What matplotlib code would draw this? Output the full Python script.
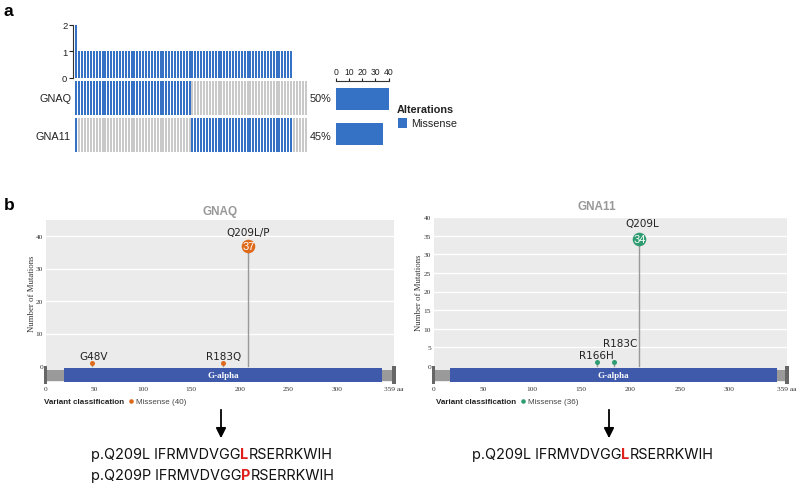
import matplotlib
matplotlib.use("Agg")
import matplotlib.pyplot as plt
import numpy as np
from matplotlib.patches import Rectangle, FancyArrowPatch

# ---------------- data ----------------
n_samples = 80
genes = ["GNAQ", "GNA11"]
gnaq_altered = [0] + list(range(1, 40))          # sample indices with GNAQ missense
gna11_altered = [0] + list(range(40, 75))        # sample indices with GNA11 missense
gene_pct = ["50%", "45%"]
gene_counts = [40, 36]
side_ticks = [0, 10, 20, 30, 40]
top_ticks = [0, 1, 2]

protein_len = 359
domain_name = "G-alpha"
gnaq_domain = (19, 347)
gna11_domain = (17, 349)

gnaq_pos = [48, 183, 209]
gnaq_cnt = [1, 1, 37]
gnaq_lab = ["G48V", "R183Q", "Q209L/P"]
gna11_pos = [166, 183, 209]
gna11_cnt = [1, 1, 34]
gna11_lab = ["R166H", "R183C", "Q209L"]
xticks_aa = [0, 50, 100, 150, 200, 250, 300, 359]
gnaq_yticks = [0, 10, 20, 30, 40]
gna11_yticks = [0, 5, 10, 15, 20, 25, 30, 35, 40]
gnaq_legend = "Missense (40)"
gna11_legend = "Missense (36)"

seq_left = [("p.Q209L IFRMVDVGG", "L", "RSERRKWIH"),
            ("p.Q209P IFRMVDVGG", "P", "RSERRKWIH")]
seq_right = [("p.Q209L IFRMVDVGG", "L", "RSERRKWIH")]

# ---------------- style ----------------
BLUE = "#3572c6"
GREY_CELL = "#c9c9c9"
ORANGE = "#de6a1c"
TEAL = "#2f9c72"
DOMAIN = "#3f5aab"
W, H = 800, 485

fig = plt.figure(figsize=(8, 4.85), dpi=100)
fig.patch.set_facecolor("white")
renderer = fig.canvas.get_renderer()

def ax_px(x0, y0, x1, y1):
    return fig.add_axes([x0 / W, 1 - y1 / H, (x1 - x0) / W, (y1 - y0) / H])

def ftext(x, y, s, **kw):
    return fig.text(x / W, 1 - y / H, s, **kw)

SANS = ["Liberation Sans", "DejaVu Sans"]
SERIF = ["Liberation Serif", "DejaVu Serif"]

# ---------------- panel a ----------------
ftext(4, 16, "a", fontsize=12.5, fontweight="bold", family=SANS)

idx = np.arange(n_samples)
gq = np.zeros(n_samples); gq[gnaq_altered] = 1
g11 = np.zeros(n_samples); g11[gna11_altered] = 1
tot = gq + g11

ax_top = ax_px(75, 25.7, 307, 79)
ax_top.bar(idx[tot > 0] + 0.5, tot[tot > 0], width=0.72, color=BLUE, linewidth=0)
ax_top.set_xlim(0, n_samples)
ax_top.set_ylim(0, 2)
for s in ["top", "right", "bottom"]:
    ax_top.spines[s].set_visible(False)
ax_top.spines["left"].set_position(("outward", 1.5))
ax_top.spines["left"].set_color("#333333")
ax_top.set_xticks([])
ax_top.set_yticks(top_ticks)
ax_top.tick_params(axis="y", labelsize=6.8, length=3, pad=1, colors="#222222")
for t in ax_top.get_yticklabels():
    t.set_family(SANS)

ax_on = ax_px(75, 82, 307, 153)
ax_on.set_xlim(0, n_samples)
ax_on.set_ylim(0, 2)
ax_on.axis("off")
ax_on.bar(idx + 0.5, np.full(n_samples, 0.97), bottom=1.03, width=0.72,
          color=[BLUE if v else GREY_CELL for v in gq], linewidth=0)
ax_on.bar(idx + 0.5, np.full(n_samples, 0.97), bottom=0.0, width=0.72,
          color=[BLUE if v else GREY_CELL for v in g11], linewidth=0)

ftext(71, 99.5, genes[0], ha="right", va="center", fontsize=7.8, family=SANS, color="#222222")
ftext(71, 137, genes[1], ha="right", va="center", fontsize=7.8, family=SANS, color="#222222")
ftext(310, 99.5, gene_pct[0], ha="left", va="center", fontsize=7.8, family=SANS, color="#222222")
ftext(310, 137, gene_pct[1], ha="left", va="center", fontsize=7.8, family=SANS, color="#222222")

ax_side = ax_px(335.7, 82, 388.7, 153)
ax_side.barh([1.5, 0.5], gene_counts, height=0.61, color=BLUE, linewidth=0)
ax_side.set_xlim(0, 40)
ax_side.set_ylim(0, 2)
for s in ["right", "bottom", "left"]:
    ax_side.spines[s].set_visible(False)
ax_side.spines["top"].set_color("#333333")
ax_side.spines["top"].set_linewidth(0.8)
ax_side.set_yticks([])
ax_side.xaxis.tick_top()
ax_side.set_xticks(side_ticks)
ax_side.tick_params(axis="x", labelsize=6.2, length=2.5, pad=1, colors="#222222")
for t in ax_side.get_xticklabels():
    t.set_family(SANS)

ftext(397, 110, "Alterations", fontsize=7.8, fontweight="bold", family=SANS, va="center", color="#222222")
fig.patches.append(Rectangle((397.5 / W, 1 - 129 / H), 9.5 / W, 10 / H,
                             transform=fig.transFigure, facecolor=BLUE, edgecolor="none"))
ftext(411, 124, "Missense", fontsize=7.8, family=SANS, va="center", color="#222222")

# ---------------- panel b ----------------
ftext(4, 210, "b", fontsize=12.5, fontweight="bold", family=SANS)

def lollipop(px_x0, px_x1, px_ytop, px_ybot, px_zero, px_per_unit, yticks,
             domain, pos, cnt, labels, color, title, title_xy, label_offsets,
             ylabel_x, legend_x, legend_txt, ytick_fs):
    ax = ax_px(px_x0, px_ytop, px_x1, px_ybot)
    ymax = (px_zero - px_ytop) / px_per_unit
    ymin = -(px_ybot - px_zero) / px_per_unit
    ax.set_xlim(0, protein_len)
    ax.set_ylim(ymin, ymax)
    ax.set_facecolor("#ebebeb")
    for s in ax.spines.values():
        s.set_visible(False)
    for yt in yticks[1:]:
        ax.axhline(yt, color="white", lw=1.0, zorder=1)
    u = 1.0 / px_per_unit
    ax.add_patch(Rectangle((0, -15 * u), protein_len, 11.5 * u,
                           facecolor="#9a9a9a", edgecolor="none", zorder=2))
    ax.add_patch(Rectangle((domain[0], -16.5 * u), domain[1] - domain[0], 14.5 * u,
                           facecolor=DOMAIN, edgecolor="none", zorder=3))
    sx = (px_x1 - px_x0) / protein_len
    for xe in (0, protein_len):
        ax.add_patch(Rectangle((xe - 1.6 / sx, -17.5 * u), 3.2 / sx, 18 * u,
                               facecolor="#666666", edgecolor="none", zorder=4, clip_on=False))
    ax.text((domain[0] + domain[1]) / 2, -9.5 * u, domain_name, color="white",
            ha="center", va="center", fontsize=6.5, fontweight="bold", family=SERIF, zorder=5)
    for p, c, lab, off in zip(pos, cnt, labels, label_offsets):
        ax.plot([p, p], [0, c], color="#999999", lw=1.0, zorder=4)
        if c > 5:
            ax.plot(p, c, "o", ms=9.8, color=color, mec="none", zorder=6)
            ax.text(p, c, str(c), color="white", ha="center", va="center",
                    fontsize=8, family=SANS, zorder=7)
        else:
            ax.plot(p, c, "o", ms=3.6, color=color, mec="none", zorder=6)
        ax.annotate(lab, (p, c), xytext=off, textcoords="offset pixels",
                    ha="center", va="center", fontsize=7.5, family=["DejaVu Sans"],
                    color="#222222", zorder=8)
    ax.set_xticks(xticks_aa)
    ax.set_xticklabels([str(v) for v in xticks_aa[:-1]] + ["359 aa"])
    ax.set_yticks(yticks)
    ax.tick_params(axis="both", length=0, labelsize=ytick_fs, colors="#333333")
    ax.tick_params(axis="x", pad=3)
    ax.tick_params(axis="y", pad=2)
    for t in ax.get_xticklabels() + ax.get_yticklabels():
        t.set_family(SERIF)
    ftext(title_xy[0], title_xy[1], title, ha="center", va="center", fontsize=8.5,
          fontweight="bold", color="#999999", family=SANS)
    ftext(ylabel_x, (px_ytop + px_zero) / 2, "Number of Mutations", rotation=90,
          ha="center", va="center", fontsize=6.3, family=SERIF, color="#333333")
    t = ftext(legend_x, 402.5, "Variant classification", fontsize=5.8, fontweight="bold",
              family=SANS, va="center", color="#222222")
    x_end = t.get_window_extent(renderer).x1
    fig.lines.append(plt.Line2D([(x_end + 7) / W], [1 - 402 / H], marker="o", ms=3.3,
                                color=color, mec="none", transform=fig.transFigure))
    fig.text((x_end + 12) / W, 1 - 402.5 / H, legend_txt, fontsize=5.8, family=SANS,
             va="center", color="#444444")
    return ax

lollipop(45.7, 394, 221, 383, 367, 3.25, gnaq_yticks, gnaq_domain,
         gnaq_pos, gnaq_cnt, gnaq_lab, ORANGE, "GNAQ", (220, 212),
         [(1, 7), (0, 7), (0, 14)], 32, 44, gnaq_legend, 5.3)
lollipop(433.7, 787, 218, 383, 367, 3.725, gna11_yticks, gna11_domain,
         gna11_pos, gna11_cnt, gna11_lab, TEAL, "GNA11", (597, 207),
         [(-1, 7), (6, 19), (3, 16)], 419, 436, gna11_legend, 5.3)

# arrows
for ax_x in (221, 609):
    fig.patches.append(FancyArrowPatch(
        (ax_x / W, 1 - 408 / H), (ax_x / W, 1 - 442 / H), transform=fig.transFigure,
        arrowstyle="-|>,head_length=6,head_width=3", color="black", lw=1.3,
        mutation_scale=1))

# sequence text with red letter
SEQF = ["Inter", "DejaVu Sans"]
FS = 10.4

def seq_line(x, y, parts):
    pre, mid, post = parts
    t1 = ftext(x, y, pre, fontsize=FS, family=SEQF, va="center", color="#111111")
    x2 = t1.get_window_extent(renderer).x1
    t2 = fig.text(x2 / W, 1 - y / H, mid, fontsize=FS, family=SEQF, va="center",
                  color="#e0201b", fontweight="bold")
    x3 = t2.get_window_extent(renderer).x1
    fig.text(x3 / W, 1 - y / H, post, fontsize=FS, family=SEQF, va="center", color="#111111")

seq_line(91, 455, seq_left[0])
seq_line(91, 476, seq_left[1])
seq_line(472, 455, seq_right[0])

fig.savefig("out.png", dpi=100, facecolor="white")
